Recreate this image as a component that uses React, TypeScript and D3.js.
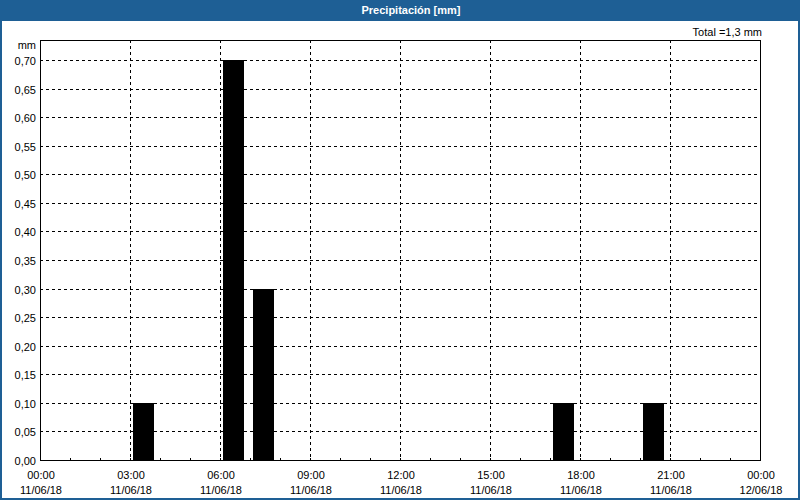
import React from "react";
import * as d3 from "d3";

const barHours = ["2018-06-11T03:00", "2018-06-11T06:00", "2018-06-11T07:00", "2018-06-11T17:00", "2018-06-11T20:00"];
const barValues = [0.1, 0.7, 0.3, 0.1, 0.1];
const yTicks = [0, 0.05, 0.1, 0.15, 0.2, 0.25, 0.3, 0.35, 0.4, 0.45, 0.5, 0.55, 0.6, 0.65, 0.7];
const xTickTimes = ["2018-06-11T00:00", "2018-06-11T03:00", "2018-06-11T06:00", "2018-06-11T09:00", "2018-06-11T12:00", "2018-06-11T15:00", "2018-06-11T18:00", "2018-06-11T21:00", "2018-06-12T00:00"];
const title = "Precipitación [mm]";
const totalLabel = "Total =1,3 mm";
const unitLabel = "mm";

const W = 800, H = 500;
const L = 40, R = 760, T = 40, B = 460;
const blue = "#1e5f95";
const font = "'Liberation Sans', Arial, sans-serif";

export default function App() {
  const parse = (s: string) => new Date(s);
  const x = d3.scaleTime().domain([parse("2018-06-11T00:00"), parse("2018-06-12T00:00")]).range([L, R]);
  const y = d3.scaleLinear().domain([0, 0.7]).range([B, 60]);
  const fmtY = (v: number) => d3.format(".2f")(v).replace(".", ",");
  const fmtT = d3.timeFormat("%H:%M");
  const fmtD = d3.timeFormat("%d/%m/%y");
  const hours = d3.timeHour.range(parse("2018-06-11T01:00"), parse("2018-06-12T00:00"));
  const crisp = (v: number) => Math.round(v) + 0.5;

  return (
    <svg width={W} height={H} style={{ position: "absolute", left: 0, top: 0 }} fontFamily={font}>
      <rect x={0} y={0} width={W} height={H} fill={blue} />
      <rect x={2} y={21} width={W - 4} height={H - 23} fill="#ffffff" />
      <text x={411} y={14} textAnchor="middle" fill="#ffffff" fontWeight="bold" fontSize={11}>{title}</text>
      <text x={762} y={36} textAnchor="end" fill="#000" fontSize={11}>{totalLabel}</text>
      <text x={36} y={49} textAnchor="end" fill="#000" fontSize={11}>{unitLabel}</text>

      {/* horizontal grid */}
      {yTicks.filter((v) => v > 0).map((v) => (
        <line key={"hg" + v} x1={L} x2={R} y1={crisp(y(v))} y2={crisp(y(v))} stroke="#000" strokeDasharray="3,3" strokeWidth={1} />
      ))}
      {/* vertical grid */}
      {xTickTimes.slice(1, -1).map((t) => (
        <line key={"vg" + t} x1={crisp(x(parse(t)))} x2={crisp(x(parse(t)))} y1={T} y2={B} stroke="#000" strokeDasharray="3,3" strokeWidth={1} />
      ))}
      {/* bars */}
      {barHours.map((h, i) => {
        const t0 = parse(h);
        const x0 = x(d3.timeMinute.offset(t0, 6));
        const x1 = x(d3.timeMinute.offset(t0, 48));
        return (
          <rect key={"b" + i} x={Math.round(x0)} y={Math.round(y(barValues[i]))} width={Math.round(x1 - x0)} height={Math.round(y(0) - y(barValues[i]))} fill="#000" />
        );
      })}
      {/* hour ticks */}
      {hours.map((t, i) => (
        <line key={"mt" + i} x1={crisp(x(t))} x2={crisp(x(t))} y1={B - 2} y2={B} stroke="#000" strokeWidth={1} />
      ))}
      {/* frame */}
      <rect x={L + 0.5} y={T + 0.5} width={R - L} height={B - T} fill="none" stroke="#000" strokeWidth={1} />
      {/* y labels */}
      {yTicks.map((v) => (
        <text key={"yl" + v} x={36} y={y(v) + 5} textAnchor="end" fontSize={11} fill="#000">{fmtY(v)}</text>
      ))}
      {/* x labels */}
      {xTickTimes.map((t) => (
        <g key={"xl" + t}>
          <text x={x(parse(t)) + 1} y={479} textAnchor="middle" fontSize={11} fill="#000">{fmtT(parse(t))}</text>
          <text x={x(parse(t)) + 1} y={494} textAnchor="middle" fontSize={11} fill="#000">{fmtD(parse(t))}</text>
        </g>
      ))}
    </svg>
  );
}
